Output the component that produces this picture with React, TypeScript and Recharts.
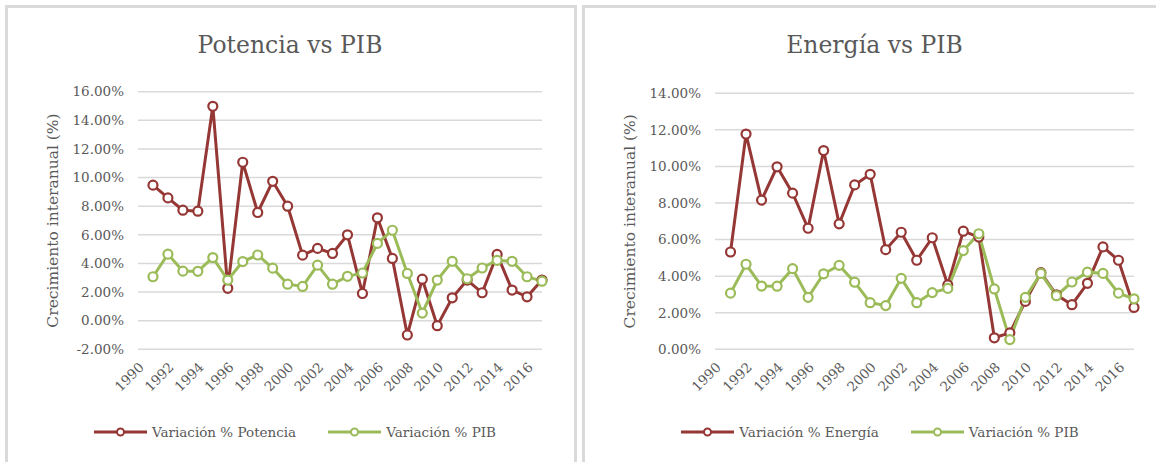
import React from "react";
import {
  LineChart,
  Line,
  XAxis,
  YAxis,
  CartesianGrid,
  Legend,
  Label,
} from "recharts";

const years = [
  "1990", "1991", "1992", "1993", "1994", "1995", "1996", "1997", "1998", "1999",
  "2000", "2001", "2002", "2003", "2004", "2005", "2006", "2007", "2008", "2009",
  "2010", "2011", "2012", "2013", "2014", "2015", "2016", "2017",
];

// variación % interanual (valores en %)
const potencia = [
  null, 9.47, 8.58, 7.72, 7.65, 14.98, 2.26, 11.07, 7.56, 9.74,
  8.0, 4.58, 5.05, 4.7, 6.0, 1.9, 7.19, 4.35, -1.0, 2.9,
  -0.35, 1.6, 2.84, 1.95, 4.63, 2.14, 1.67, 2.84,
];

const energia = [
  null, 5.32, 11.77, 8.16, 9.98, 8.54, 6.62, 10.87, 6.86, 8.99,
  9.57, 5.45, 6.4, 4.87, 6.1, 3.52, 6.46, 6.14, 0.63, 0.9,
  2.62, 4.19, 2.98, 2.44, 3.61, 5.6, 4.87, 2.29,
];

const pib = [
  null, 3.07, 4.65, 3.46, 3.45, 4.41, 2.84, 4.13, 4.59, 3.67,
  2.55, 2.39, 3.88, 2.55, 3.1, 3.33, 5.4, 6.32, 3.3, 0.53,
  2.84, 4.15, 2.93, 3.68, 4.22, 4.15, 3.07, 2.76,
];

const ticksPotencia = [-2, 0, 2, 4, 6, 8, 10, 12, 14, 16];
const ticksEnergia = [0, 2, 4, 6, 8, 10, 12, 14];

const ROJO = "#953735";
const VERDE = "#9BBB59";
const GRIS = "#595959";
const FONT = "'DejaVu Serif', serif";

const dataPotencia = years.map((year, i) => ({ year, serie: potencia[i], pib: pib[i] }));
const dataEnergia = years.map((year, i) => ({ year, serie: energia[i], pib: pib[i] }));

const fmt = (v: number) => `${v.toFixed(2)}%`;

function LeyendaItem({ color, texto }: { color: string; texto: string }) {
  return (
    <div style={{ display: "flex", alignItems: "center" }}>
      <svg width={53} height={12}>
        <line x1={0} y1={6} x2={53} y2={6} stroke={color} strokeWidth={3} />
        <circle cx={26.5} cy={6} r={3.5} fill="#fff" stroke={color} strokeWidth={2} />
      </svg>
      <span style={{ marginLeft: 5, fontFamily: FONT, fontSize: 13.5, color: GRIS }}>{texto}</span>
    </div>
  );
}

function Grafica({
  titulo,
  data,
  ticks,
  nombreSerie,
  left,
  width,
  marginTop,
  marginRight,
  legendPad,
}: {
  titulo: string;
  data: any[];
  ticks: number[];
  nombreSerie: string;
  left: number;
  width: number;
  marginTop: number;
  marginRight: number;
  legendPad: number;
}) {
  return (
    <div
      style={{
        position: "absolute",
        left: left - 3,
        top: 5,
        width,
        height: 470,
        border: "3px solid #dadada",
        background: "#fff",
        overflow: "hidden",
      }}
    >
      <div
        style={{
          position: "absolute",
          top: 23,
          left: 0,
          width: width - marginRight + 30,
          textAlign: "center",
          fontFamily: FONT,
          fontSize: 23.5,
          lineHeight: "28px",
          color: GRIS,
        }}
      >
        {titulo}
      </div>
      <LineChart
        width={width}
        height={454}
        data={data}
        margin={{ top: marginTop, right: marginRight, left: 0, bottom: 20 }}
      >
        <CartesianGrid vertical={false} stroke="#d9d9d9" strokeWidth={1.5} />
        <XAxis
          dataKey="year"
          interval={1}
          tickLine={false}
          axisLine={false}
          height={72.7}
          angle={-45}
          textAnchor="end"
          tickMargin={6}
          tick={{ fill: GRIS, fontSize: 13.5, fontFamily: FONT }}
        />
        <YAxis
          width={130}
          domain={[ticks[0], ticks[ticks.length - 1]]}
          ticks={ticks}
          tickFormatter={fmt}
          tickLine={false}
          axisLine={false}
          tickMargin={8}
          tick={{ fill: GRIS, fontSize: 13.5, fontFamily: FONT }}
        >
          <Label
            content={(props: any) => {
              const vb = props.viewBox || {};
              const cx = vb.x + vb.width - 85;
              const cy = vb.y + vb.height / 2;
              return (
                <text
                  x={cx}
                  y={cy}
                  transform={`rotate(-90 ${cx} ${cy})`}
                  textAnchor="middle"
                  dominantBaseline="central"
                  fill={GRIS}
                  fontSize={15.5}
                  fontFamily={FONT}
                >
                  Crecimiento interanual (%)
                </text>
              );
            }}
          />
        </YAxis>
        <Legend
          verticalAlign="bottom"
          content={() => (
            <div
              style={{
                height: 20,
                display: "flex",
                justifyContent: "center",
                alignItems: "center",
                paddingLeft: legendPad,
                gap: 32,
              }}
            >
              <LeyendaItem color={ROJO} texto={nombreSerie} />
              <LeyendaItem color={VERDE} texto="Variación % PIB" />
            </div>
          )}
        />
        <Line
          dataKey="serie"
          name={nombreSerie}
          stroke={ROJO}
          strokeWidth={3}
          dot={{ r: 4.5, fill: "#fff", stroke: ROJO, strokeWidth: 2.2 }}
          isAnimationActive={false}
        />
        <Line
          dataKey="pib"
          name="Variación % PIB"
          stroke={VERDE}
          strokeWidth={3}
          dot={{ r: 4.5, fill: "#fff", stroke: VERDE, strokeWidth: 2.2 }}
          isAnimationActive={false}
        />
      </LineChart>
    </div>
  );
}

export default function App() {
  return (
    <div style={{ position: "absolute", left: 0, top: 0, width: 1156, height: 462, overflow: "hidden", background: "#fff" }}>
      <Grafica
        titulo="Potencia vs PIB"
        data={dataPotencia}
        ticks={ticksPotencia}
        nombreSerie="Variación % Potencia"
        left={8}
        width={566}
        marginTop={83.7}
        marginRight={32}
        legendPad={40}
      />
      <Grafica
        titulo="Energía vs PIB"
        data={dataEnergia}
        ticks={ticksEnergia}
        nombreSerie="Variación % Energía"
        left={585}
        width={575}
        marginTop={85.3}
        marginRight={26}
        legendPad={41}
      />
    </div>
  );
}
